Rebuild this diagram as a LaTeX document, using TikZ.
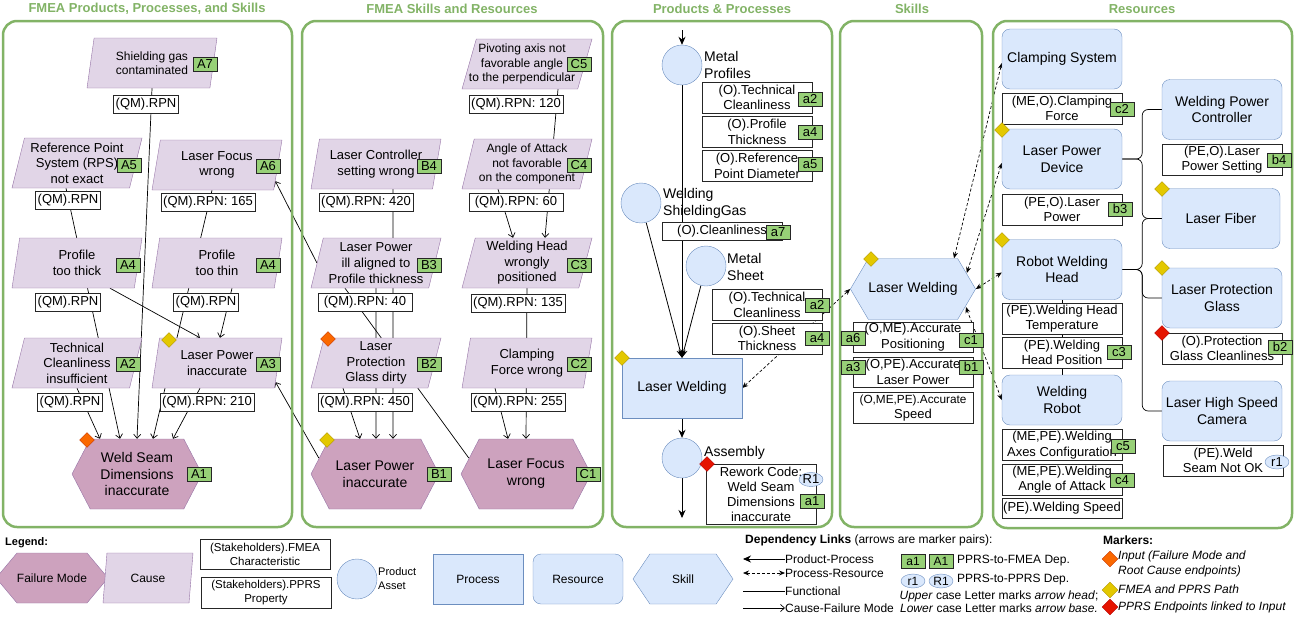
\documentclass[tikz,border=0pt]{standalone}
\usepackage{fontspec}
\setmainfont{Liberation Sans}
\usetikzlibrary{calc, arrows.meta, shapes.geometric, shapes.symbols, backgrounds}
\definecolor{pgreen}{RGB}{130, 179, 102}
\definecolor{tgreen}{RGB}{151, 208, 119}
\definecolor{cfill}{RGB}{225, 213, 231}
\definecolor{cstroke}{RGB}{150, 115, 166}
\definecolor{ffill}{RGB}{205, 162, 190}
\definecolor{bfill}{RGB}{218, 232, 252}
\definecolor{bstroke}{RGB}{108, 142, 191}
\definecolor{morange}{RGB}{250, 104, 0}
\definecolor{morangeD}{RGB}{199, 53, 0}
\definecolor{myellow}{RGB}{227, 200, 0}
\definecolor{myellowD}{RGB}{176, 149, 0}
\definecolor{mred}{RGB}{229, 20, 0}
\definecolor{mredD}{RGB}{178, 0, 0}

\begin{document}
\begin{tikzpicture}[
    x = 1pt, y = -1pt,
    every node/.style = {inner sep = 0pt, font = \fontsize{13}{15.6}\selectfont},
    f14/.style = {font = \fontsize{14}{16.8}\selectfont},
    f12/.style = {font = \fontsize{12}{14.4}\selectfont},
    f11/.style = {font = \fontsize{11}{14}\selectfont},
    panel/.style = {draw = pgreen, line width = 2.5pt, rounded corners = 14pt},
    ptitle/.style = {text = pgreen, font = \bfseries\fontsize{13}{15}\selectfont},
    cause/.style = {trapezium, trapezium left angle = 73, trapezium right angle = 107, trapezium stretches body, minimum width = 130, minimum height = 50, draw = cstroke, fill = cfill, align = center},
    fmode/.style = {signal, signal to = west and east, signal pointer angle = 125, minimum width = 130, minimum height = 70, draw = cstroke, fill = ffill, align = center, f14},
    skill/.style = {signal, signal to = west and east, signal pointer angle = 119, minimum width = 122, minimum height = 61, draw = bstroke, fill = bfill, align = center, f14},
    rpn/.style = {draw = black!85, fill = white, inner xsep = 2pt, minimum height = 18},
    pprop/.style = {draw = black!85, fill = white, minimum width = 110, minimum height = 31, align = center},
    fmtag/.style = {draw = black!85, fill = tgreen, minimum width = 24, minimum height = 14},
    rtag/.style = {ellipse, draw = bstroke, fill = bfill, inner sep = -2pt, minimum width = 24, minimum height = 14},
    asset/.style = {circle, draw = bstroke, fill = bfill, minimum size = 40},
    proc/.style = {draw = bstroke, fill = bfill, minimum width = 120, minimum height = 60, align = center, f14},
    res/.style = {proc, rounded corners = 8pt},
    mkr/.style = {diamond, minimum size = 15},
    mko/.style = {mkr, fill = morange, draw = morangeD},
    mky/.style = {mkr, fill = myellow, draw = myellowD},
    mkd/.style = {mkr, fill = mred, draw = mredD},
    cf/.style = {line width = 0.7pt, -{Straight Barb[length = 4pt, width = 7pt]}},
    pp/.style = {line width = 0.8pt, -{Stealth[length = 8pt, width = 7pt]}},
    pr/.style = {line width = 0.7pt, dash pattern = on 3pt off 2pt, {Stealth[length = 6pt, width = 5pt]}-{Stealth[length = 6pt, width = 5pt]}},
    fn/.style = {line width = 0.7pt, rounded corners = 6pt},
]

\useasboundingbox (0,0) rectangle (1298,621);

\draw[panel] (3,21) rectangle (292,527);
\draw[panel] (302,21) rectangle (603,527);
\draw[panel] (612,21) rectangle (832,527);
\draw[panel] (840,21) rectangle (982,527);
\draw[panel] (993,21) rectangle (1292,528);
\node[ptitle] (t1) at (147,9) {FMEA Products, Processes, and Skills};
\node[ptitle] (t2) at (452,9) {FMEA Skills and Resources};
\node[ptitle] (t3) at (722,9) {Products \& Processes};
\node[ptitle] (t4) at (912,9) {Skills};
\node[ptitle] (t5) at (1142,9) {Resources};

\begin{scope}
\node[cause, f12] (A7) at (152,63) {Shielding gas\\contaminated};
\node[cause] (A5) at (77,163) {Reference Point\\System (RPS)\\not exact};
\node[cause] (A6) at (217,165) {Laser Focus\\wrong};
\node[cause] (A4a) at (77,263) {Profile\\too thick};
\node[cause] (A4b) at (217,263) {Profile\\too thin};
\node[cause] (A2) at (77,363) {Technical\\Cleanliness\\insufficient};
\node[cause] (A3) at (217,363) {Laser Power\\inaccurate};
\node[fmode] (A1) at (137,474) {Weld Seam\\Dimensions\\inaccurate};

\node[rpn] (qA7) at (146,104) {(QM).RPN};
\node[rpn] (qA5) at (68,200) {(QM).RPN};
\node[rpn] (qA6) at (208,202) {(QM).RPN: 165};
\node[rpn] (qA4a) at (68,302) {(QM).RPN};
\node[rpn] (qA4b) at (206,302) {(QM).RPN};
\node[rpn] (qA2) at (70,402) {(QM).RPN};
\node[rpn] (qA3) at (207,402) {(QM).RPN: 210};

\node[fmtag] (tA7) at (205,64) {A7};
\node[fmtag] (tA5) at (129,165) {A5};
\node[fmtag] (tA6) at (268,166) {A6};
\node[fmtag] (tA4a) at (128,265) {A4};
\node[fmtag] (tA4b) at (268,265) {A4};
\node[fmtag] (tA2) at (128,364) {A2};
\node[fmtag] (tA3) at (268,364) {A3};
\node[fmtag] (tA1) at (199,474) {A1};

\node[mko] (mA1) at (87,440) {};
\node[mky] (mA3) at (169,340) {};
\end{scope}

\begin{scope}
\node[cause] (C5) at (527,64) {\strut\\\strut\\\strut};
\node[f12, align = center] (C5l) at (522,64) {Pivoting axis not\\favorable angle\\to the perpendicular};
\node[cause] (B4) at (376,164) {Laser Controller\\setting wrong};
\node[cause, f12] (C4) at (527,164) {Angle of Attack\\not favorable\\on the component};
\node[cause] (B3) at (376,263) {Laser Power\\ill aligned to\\Profile thickness};
\node[cause] (C3) at (527,263) {Welding Head\\wrongly\\positioned};
\node[cause] (B2) at (376,363) {Laser\\Protection\\Glass dirty};
\node[cause] (C2) at (527,363) {Clamping\\Force wrong};
\node[fmode, minimum width = 128] (B1) at (375,474) {Laser Power\\inaccurate};
\node[fmode] (C1) at (526,474) {Laser Focus\\wrong};

\node[rpn] (qC5) at (516,104) {(QM).RPN: 120};
\node[rpn] (qB4) at (366,202) {(QM).RPN: 420};
\node[rpn, minimum width = 94] (qC4) at (516,202) {(QM).RPN: 60};
\node[rpn, minimum width = 94] (qB3) at (365,302) {(QM).RPN: 40};
\node[rpn] (qC3) at (518,303) {(QM).RPN: 135};
\node[rpn] (qB2) at (365,402) {(QM).RPN: 450};
\node[rpn] (qC2) at (518,402) {(QM).RPN: 255};

\node[fmtag] (tC5) at (579,64) {C5};
\node[fmtag] (tB4) at (429,166) {B4};
\node[fmtag] (tC4) at (579,165) {C4};
\node[fmtag] (tB3) at (429,265) {B3};
\node[fmtag] (tC3) at (579,265) {C3};
\node[fmtag] (tB2) at (429,364) {B2};
\node[fmtag] (tC2) at (579,364) {C2};
\node[fmtag] (tB1) at (439,474) {B1};
\node[fmtag] (tC1) at (588,474) {C1};

\node[mko] (mB2) at (328,339) {};
\node[mky] (mB1) at (327,440) {};
\end{scope}

\begin{scope}
\coordinate (mpIn) at (682,30);
\node[asset] (mp) at (682,65) {};
\node[f14, anchor = west, align = left] (mpl) at (704,65) {Metal\\Profiles};
\node[pprop] (pTC1) at (757,97.5) {(O).Technical\\Cleanliness};
\node[pprop] (pPT) at (757,132) {(O).Profile\\Thickness};
\node[pprop] (pRP) at (757,166) {(O).Reference\\Point Diameter};
\node[fmtag] (ta2) at (810,99) {a2};
\node[fmtag] (ta4) at (810,132) {a4};
\node[fmtag] (ta5) at (810,164) {a5};

\node[asset] (ws) at (641,203) {};
\node[f14, anchor = west, align = left] (wsl) at (663,203) {Welding\\ShieldingGas};
\node[pprop, minimum width = 120, minimum height = 18] (pCl) at (722,231) {(O).Cleanliness};
\node[fmtag] (ta7) at (778,232) {a7};

\node[asset] (msh) at (706,266) {};
\node[f14, anchor = west, align = left] (mshl) at (727,267) {Metal\\Sheet};
\node[pprop] (pTC2) at (767,305) {(O).Technical\\Cleanliness};
\node[pprop] (pST) at (767,338.5) {(O).Sheet\\Thickness};
\node[fmtag] (ta2b) at (817,305) {a2};
\node[fmtag] (ta4b) at (817,338) {a4};

\node[proc] (lw) at (682,388) {Laser Welding};
\node[mky] (mlw) at (622,358) {};

\node[asset] (asm) at (682,458) {};
\node[f14, anchor = west] (asml) at (704,453) {Assembly};
\node[pprop, minimum height = 60, font = \fontsize{13}{15}\selectfont] (pRW) at (761,494) {Rework Code:\\Weld Seam\\Dimensions\\inaccurate};
\node[rtag] (tR1) at (811,479.5) {R1};
\node[fmtag] (ta1) at (812,501) {a1};
\node[mkd] (masm) at (707,464) {};
\coordinate (asmOut) at (682,518);
\end{scope}

\begin{scope}
\node[skill] (sk) at (913,289) {Laser Welding};
\node[mky] (msk) at (871,259) {};
\node[pprop, minimum width = 120, minimum height = 30] (pAP) at (913,337) {(O,ME).Accurate\\Positioning};
\node[pprop, minimum width = 120, minimum height = 30] (pAL) at (913,372) {(O,PE).Accurate\\Laser Power};
\node[pprop, minimum width = 120, minimum height = 31] (pAS) at (913,408) {{\fontsize{11.8}{15.6}\selectfont(O,ME,PE).Accurate}\\Speed};
\node[fmtag] (ta6) at (853,338) {a6};
\node[fmtag] (tc1) at (971,340) {c1};
\node[fmtag] (ta3) at (853,367) {a3};
\node[fmtag] (tb1) at (971,367) {b1};
\end{scope}

\begin{scope}
\node[res] (cs) at (1062,59) {Clamping System};
\node[pprop, minimum width = 120] (pCF) at (1062,108.5) {(ME,O).Clamping\\Force};
\node[fmtag] (tc2) at (1122,109) {c2};
\node[res] (lpd) at (1062,159) {Laser Power\\Device};
\node[pprop, minimum width = 120] (pLP) at (1062,209.5) {(PE,O).Laser\\Power};
\node[fmtag] (tb3) at (1120,209) {b3};
\node[res] (rwh) at (1062,269.5) {Robot Welding\\Head};
\node[pprop, minimum width = 120] (pHT) at (1062,318.5) {(PE).Welding Head\\Temperature};
\node[pprop, minimum width = 120] (pHP) at (1062,352.5) {(PE).Welding\\Head Position};
\node[fmtag] (tc3) at (1119,352) {c3};
\node[res, minimum height = 50] (wr) at (1062,400) {Welding\\Robot};
\node[pprop, minimum width = 120] (pAC) at (1062,445) {(ME,PE).Welding\\Axes Configuration};
\node[fmtag] (tc5) at (1123,446) {c5};
\node[pprop, minimum width = 120] (pAA) at (1062,479.5) {(ME,PE).Welding\\Angle of Attack};
\node[fmtag] (tc4) at (1122,480) {c4};
\node[pprop, minimum width = 120, minimum height = 20] (pWS) at (1062,508) {(PE).Welding Speed};

\node[res] (wpc) at (1222,109.5) {Welding Power\\Controller};
\node[pprop, minimum width = 120] (pPS) at (1222,159.5) {(PE,O).Laser\\Power Setting};
\node[fmtag] (tb4) at (1279,160) {b4};
\node[res, minimum width = 118] (lf) at (1221,218.5) {Laser Fiber};
\node[res] (lpg) at (1222,298) {Laser Protection\\Glass};
\node[pprop, minimum width = 120] (pGC) at (1222,348.5) {(O).Protection\\Glass Cleanliness};
\node[fmtag] (tb2) at (1280,347) {b2};
\node[res] (lhsc) at (1222,411) {Laser High Speed\\Camera};
\node[pprop, minimum width = 120] (pNO) at (1223,460.5) {(PE).Weld\\Seam Not OK};
\node[rtag] (tr1) at (1277,462) {r1};

\node[mky] (mlpd) at (1002,130) {};
\node[mky] (mrwh) at (1002,240) {};
\node[mky] (mlf) at (1162,189) {};
\node[mky] (mlpg) at (1162,268) {};
\node[mkd] (mgc) at (1162,333) {};
\end{scope}

\begin{scope}[on background layer]
\draw[cf] (A7.south) -- (A1.north);
\draw[cf] ($(A5.south)+(-11,0)$) -- ($(A1.north)+(-17,0)$);
\draw[cf] (A2.south) -- ($(A1.north)+(-37,0)$);
\draw[cf] ($(A6.south)+(-5,0)$) -- ($(A1.north)+(16,0)$);
\draw[cf] ($(A3.south)+(-17,0)$) -- ($(A1.north)+(36,0)$);
\draw[cf] ($(A4a.south)+(33,0)$) -- ($(A3.north)+(-17,0)$);
\draw[cf] ($(A4b.south)+(15,0)$) -- ($(A3.north)+(3,0)$);
\draw[cf] (B3.west) -- ($(A6.bottom right corner)!0.18!(A6.top right corner)$);
\draw[cf] ($(B1.west)+(8,-16)$) -- ($(A3.bottom right corner)!0.12!(A3.top right corner)$);

\draw[cf] ($(C5.south)+(31,0)$) -- ($(C3.north)+(18,0)$);
\draw[cf] ($(C4.south)+(-29,0)$) -- ($(C3.north)+(-14,0)$);
\draw[cf] (C3.south) -- (C1.north);
\draw[cf] ($(C2.south)+(-32,0)$) -- ($(C1.north)+(-18,0)$);
\draw[cf] ($(B4.south)+(17,0)$) -- ($(B1.north)+(18,0)$);
\draw[cf] (B3.south) -- ($(B1.north)+(1,0)$);
\draw[cf] ($(B2.south)+(-33,0)$) -- ($(B1.north)+(-15,0)$);
\draw[line width = 0.7pt] ($(B3.south)+(-31,0)$) -- ($(C1.west)+(8,-16)$);

\draw[pp] (mpIn) -- (mp.north);
\draw[pp] (mp.south) -- (lw.north);
\draw[pp] (ws) -- (lw.north);
\draw[pp] (msh) -- (lw.north);
\draw[pp] (lw.south) -- (asm.north);
\draw[pp] (asm.south) -- (asmOut);

\draw[pr] (lw.east) -- (sk.west);
\draw[pr] ($(sk.north)+(41,0)$) -- ($(cs.west)+(0,4)$);
\draw[pr] ($(sk.east)+(-9,-16)$) -- ($(lpd.west)+(0,4)$);
\draw[pr] (sk.east) -- ($(rwh.west)+(0,3)$);
\draw[pr] ($(sk.east)+(-10,18)$) -- (wr.west);

\draw[fn] (lpd.east) -- ++(20,0) |- (wpc.west);
\draw[fn] (lpd.east) -- ++(20,0) |- (lf.west);
\draw[fn] (rwh.east) -- ++(20,0) |- (lf.west);
\draw[fn] (rwh.east) -- ++(20,0) |- (lpg.west);
\draw[fn] (rwh.east) -- ++(20,0) |- (lhsc.west);
\draw[line width = 0.7pt] (rwh.south) -- (wr.north);
\end{scope}

\begin{scope}
\node[anchor = west, font = \bfseries\fontsize{11}{13}\selectfont] (lgT) at (5,543) {Legend:};
\node[fmode, f12, minimum width = 97, minimum height = 50, signal pointer angle = 100] (lgFM) at (52,578) {Failure Mode};
\node[cause, f12, minimum width = 90, trapezium left angle = 65, trapezium right angle = 115] (lgC) at (148,578) {Cause};
\node[pprop, font = \fontsize{11.5}{14}\selectfont, minimum width = 130, minimum height = 30] (lgFC) at (265,554) {(Stakeholders).FMEA\\Characteristic};
\node[pprop, font = \fontsize{11.5}{14}\selectfont, minimum width = 130, minimum height = 31] (lgPP) at (266,592.5) {(Stakeholders).PPRS\\Property};
\node[asset] (lgA) at (357,579) {};
\node[f11, anchor = west, align = left] (lgAl) at (378,579) {Product\\Asset};
\node[proc, f12, minimum width = 90, minimum height = 50] (lgP) at (478,579) {Process};
\node[res, f12, minimum width = 90, minimum height = 50] (lgR) at (578,579) {Resource};
\node[skill, f12, minimum width = 100, minimum height = 50, signal pointer angle = 112] (lgS) at (683,579) {Skill};

\node[f12, anchor = west] (lgD) at (745,540) {\textbf{Dependency Links} (arrows are marker pairs):};
\node[f12, anchor = west] (lgL1) at (785,559) {Product-Process};
\node[f12, anchor = west] (lgL2) at (785,573) {Process-Resource};
\node[f12, anchor = west] (lgL3) at (785,591) {Functional};
\node[f12, anchor = west] (lgL4) at (785,608) {Cause-Failure Mode};
\coordinate (lgE1) at (743,559);
\coordinate (lgE2) at (743,573);
\coordinate (lgE3) at (743,591);
\coordinate (lgE4) at (743,608);
\draw[pp] (lgL1.west) -- (lgE1);
\draw[pr] (lgE2) -- (lgL2.west);
\draw[fn] (lgE3) -- (lgL3.west);
\draw[cf] (lgE4) -- (lgL4.west);

\node[fmtag, f12] (lga1) at (913,561) {a1};
\node[fmtag, f12] (lgA1) at (941,561) {A1};
\node[f12, anchor = west] (lgT1) at (957,561) {PPRS-to-FMEA Dep.};
\node[rtag, f12] (lgr1) at (913,581) {r1};
\node[rtag, f12] (lgR1) at (941,581) {R1};
\node[f12, anchor = west] (lgT2) at (957,580) {PPRS-to-PPRS Dep.};
\node[align = center, font = \fontsize{12}{13}\selectfont] (lgU) at (999,601.5) {\textit{Upper} case Letter marks \textit{arrow head};\\\textit{Lower} case Letter marks \textit{arrow base.}};

\node[anchor = west, font = \bfseries\fontsize{12}{14}\selectfont] (lgM) at (1103,540) {Markers:};
\node[mko, minimum size = 16] (lgMo) at (1110,559) {};
\node[mky, minimum size = 16] (lgMy) at (1110,590) {};
\node[mkd, minimum size = 16] (lgMr) at (1110,607) {};
\node[anchor = west, align = left, font = \itshape\fontsize{12}{15.5}\selectfont] (lgMot) at (1118,564) {Input (Failure Mode and\\ Root Cause endpoints)};
\node[anchor = west, font = \itshape\fontsize{12}{14}\selectfont] (lgMyt) at (1118,589) {FMEA and PPRS Path};
\node[anchor = west, font = \itshape\fontsize{12}{14}\selectfont] (lgMrt) at (1118,607) {PPRS Endpoints linked to Input};
\end{scope}

\end{tikzpicture}
\end{document}
